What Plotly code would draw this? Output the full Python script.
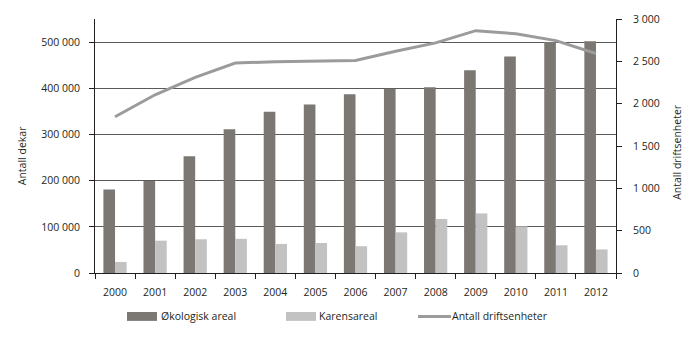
import plotly.graph_objects as go

# Data
years = [str(y) for y in range(2000, 2013)]
okologisk_areal = [181000, 199000, 253000, 311000, 349000, 365000, 387000,
                   399000, 402000, 439000, 469000, 500000, 502000]
karensareal = [24000, 70000, 73000, 74000, 63000, 65000, 58000,
               88000, 117000, 129000, 101000, 60000, 51000]
driftsenheter = [1845, 2105, 2310, 2480, 2495, 2503, 2510,
                 2620, 2718, 2862, 2825, 2745, 2592]

series_names = ["Økologisk areal", "Karensareal", "Antall driftsenheter"]
dark = "#7b7773"
light = "#c2c2c2"
line_col = "#9b9b9b"
txt = "#231f20"
font_family = "Open Sans, Liberation Sans, sans-serif"

fig = go.Figure()
fig.add_trace(go.Bar(x=years, y=okologisk_areal, name=series_names[0],
                     marker=dict(color=dark, line=dict(width=0)),
                     showlegend=False))
fig.add_trace(go.Bar(x=years, y=karensareal, name=series_names[1],
                     marker=dict(color=light, line=dict(width=0)),
                     showlegend=False))
fig.add_trace(go.Scatter(x=years, y=driftsenheter, name=series_names[2],
                         yaxis="y2", mode="lines",
                         line=dict(color=line_col, width=3),
                         showlegend=False))

fig.update_layout(
    width=700, height=343,
    margin=dict(l=95, r=84, t=19, b=70),
    paper_bgcolor="white", plot_bgcolor="white",
    font=dict(family=font_family, size=10.5, color=txt),
    separators=", ",
    barmode="group", bargap=0.42, bargroupgap=0,
    xaxis=dict(type="category", showline=True, linecolor="#231f20",
               linewidth=1, ticks="outside", tickson="boundaries",
               ticklen=5, tickcolor="#231f20", showgrid=False,
               ticklabelstandoff=9),
    yaxis=dict(range=[0, 550000], tickvals=[0, 100000, 200000, 300000, 400000, 500000],
               tickformat=",d", showline=True, linecolor="#231f20", linewidth=1,
               ticks="outside", ticklen=5, tickcolor="#231f20",
               showgrid=True, gridcolor="#5a5a5a", gridwidth=1,
               zeroline=False, ticklabelstandoff=7),
    yaxis2=dict(range=[0, 3000], tickvals=[0, 500, 1000, 1500, 2000, 2500, 3000],
                tickformat=",d", overlaying="y", side="right",
                showline=True, linecolor="#231f20", linewidth=1,
                ticks="outside", ticklen=5, tickcolor="#231f20",
                showgrid=False, zeroline=False, ticklabelstandoff=9),
)

# Axis titles
fig.add_annotation(text="Antall dekar", xref="paper", yref="paper",
                   x=-0.14, y=0.46, textangle=-90, showarrow=False,
                   xanchor="center", yanchor="middle")
fig.add_annotation(text="Antall driftsenheter", xref="paper", yref="paper",
                   x=1.117, y=0.477, textangle=-90, showarrow=False,
                   xanchor="center", yanchor="middle")

# Legend row below the plot
def px_x(px):
    return (px - 95) / 521.0

leg_y = -0.171
swatch_h = 0.035
fig.add_shape(type="rect", xref="paper", yref="paper",
              x0=px_x(127), x1=px_x(157), y0=leg_y - swatch_h / 2,
              y1=leg_y + swatch_h / 2, fillcolor=dark, line=dict(width=0))
fig.add_annotation(text=series_names[0], xref="paper", yref="paper",
                   x=px_x(159), y=leg_y, xanchor="left", yanchor="middle",
                   showarrow=False)
fig.add_shape(type="rect", xref="paper", yref="paper",
              x0=px_x(286), x1=px_x(316), y0=leg_y - swatch_h / 2,
              y1=leg_y + swatch_h / 2, fillcolor=light, line=dict(width=0))
fig.add_annotation(text=series_names[1], xref="paper", yref="paper",
                   x=px_x(317), y=leg_y, xanchor="left", yanchor="middle",
                   showarrow=False)
fig.add_shape(type="line", xref="paper", yref="paper",
              x0=px_x(418), x1=px_x(451), y0=leg_y, y1=leg_y,
              line=dict(color=line_col, width=3))
fig.add_annotation(text=series_names[2], xref="paper", yref="paper",
                   x=px_x(450), y=leg_y, xanchor="left", yanchor="middle",
                   showarrow=False)

fig.write_html("out.html")
